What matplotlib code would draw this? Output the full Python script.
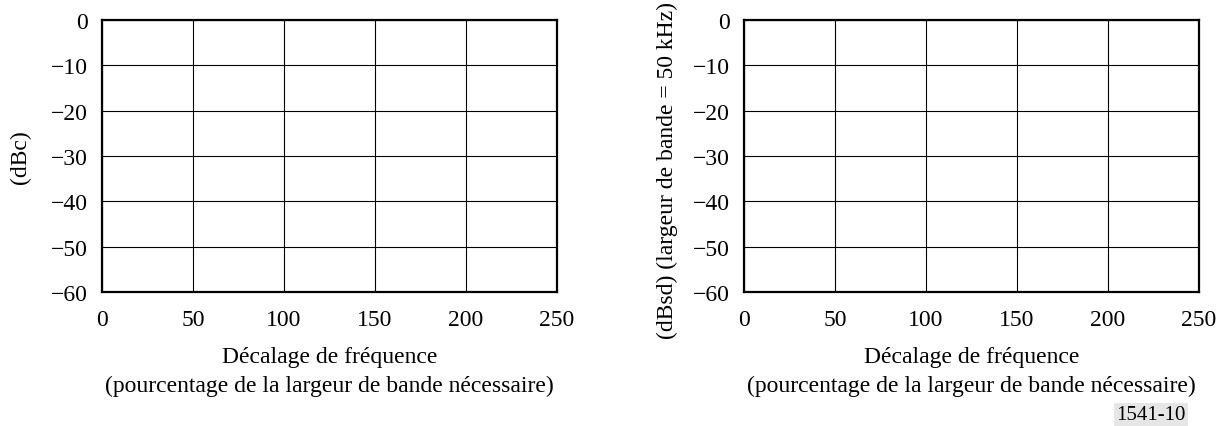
import matplotlib
matplotlib.use("Agg")
import matplotlib.pyplot as plt

plt.rcParams['font.family'] = ['Liberation Serif', 'DejaVu Serif']
plt.rcParams['axes.unicode_minus'] = True

x_ticks = [0, 50, 100, 150, 200, 250]
y_ticks = [0, -10, -20, -30, -40, -50, -60]
x_label = "Décalage de fréquence\n(pourcentage de la largeur de bande nécessaire)"
y_labels = ["(dBc)", "(dBsd) (largeur de bande = 50 kHz)"]
fig_id = "1541-10"

W, H = 1227, 427
fig = plt.figure(figsize=(W / 100, H / 100), dpi=100)

axes_px = [(102, 21, 557, 293), (744, 21, 1199, 293)]
ylab_x_px = [20, 667]
ylab_y_px = [157, 171]

for (l, t, r, b), ylab, lxp, lyp in zip(axes_px, y_labels, ylab_x_px, ylab_y_px):
    ax = fig.add_axes([l / W, 1 - b / H, (r - l) / W, (b - t) / H])
    ax.set_xlim(0, 250)
    ax.set_ylim(-60, 0)
    ax.set_xticks(x_ticks)
    ax.set_yticks(y_ticks)
    ax.set_xticklabels([str(v) for v in x_ticks])
    ax.set_yticklabels(["0" if v == 0 else "\u2212" + str(-v) for v in y_ticks])
    ax.tick_params(length=0, labelsize=17, colors='black')
    ax.tick_params(axis='x', pad=12)
    ax.tick_params(axis='y', pad=10)
    ax.grid(True, color='black', linewidth=0.8)
    for s in ax.spines.values():
        s.set_linewidth(1.6)
        s.set_color('black')
    ax.set_ylabel(ylab, fontsize=17, va='center', ha='center')
    ax.yaxis.set_label_coords((lxp - l) / (r - l), (b - lyp) / (b - t))
    fig.text((l + r) / 2 / W, 1 - 358 / H, x_label.split("\n")[0], fontsize=17,
             ha='center', va='center')
    fig.text((l + r) / 2 / W, 1 - 386 / H, x_label.split("\n")[1], fontsize=17,
             ha='center', va='center')

fig.text(1151 / W, 1 - 416 / H, fig_id, fontsize=15, ha='center', va='center',
         bbox=dict(facecolor='#e6e6e6', edgecolor='none', pad=1.5))

fig.savefig("out.png", dpi=100, facecolor='white')
